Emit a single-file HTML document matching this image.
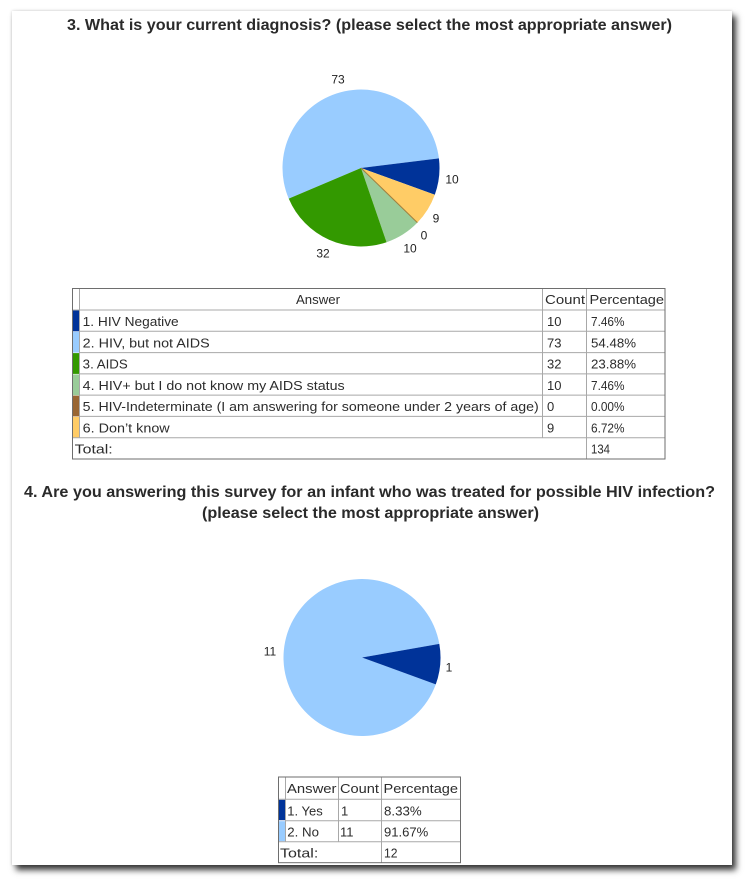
<!DOCTYPE html>
<html>
<head>
<meta charset="utf-8">
<style>
  html, body { margin:0; padding:0; background:#ffffff; }
  body { width:745px; height:880px; position:relative; overflow:hidden; }
  .page { position:absolute; left:12px; top:11px; width:720px; height:854px; background:#fff;
          box-shadow: 4px 5px 6px rgba(0,0,0,0.78), 0 0 3px rgba(0,0,0,0.18); }
  svg { position:absolute; left:0; top:0; }
  .ttl { font-family:"Liberation Sans", Arial, sans-serif; font-weight:bold; font-size:16px; fill:#2a2a2a; }
  .cell { font-family:"Liberation Sans", Arial, sans-serif; font-size:13px; fill:#2c2c2c; }
  .lbl { font-family:"Liberation Sans", Arial, sans-serif; font-size:12px; fill:#222; text-anchor:middle; }
</style>
</head>
<body>
<div class="page"></div>
<svg width="745" height="880" viewBox="0 0 745 880" xmlns="http://www.w3.org/2000/svg">
  <!-- Title 1 -->
  <text class="ttl" x="67" y="30" textLength="605" lengthAdjust="spacingAndGlyphs">3. What is your current diagnosis? (please select the most appropriate answer)</text>

  <!-- Pie 1 -->
  <g>
    <path d="M361,168 L288.74,198.67 A78.5,78.5 0 1 1 438.92,158.43 Z" fill="#99ccff"/>
    <path d="M361,168 L438.92,158.43 A78.5,78.5 0 0 1 434.81,194.72 Z" fill="#003399"/>
    <path d="M361,168 L434.81,194.72 A78.5,78.5 0 0 1 417.37,222.63 Z" fill="#ffcc66"/>
    <path d="M361,168 L417.37,222.63 A78.5,78.5 0 0 1 386.56,242.22 Z" fill="#99cc99"/>
    <path d="M361,168 L386.56,242.22 A78.5,78.5 0 0 1 288.74,198.67 Z" fill="#339900"/>
    <line x1="361" y1="168" x2="417.37" y2="222.63" stroke="#a08040" stroke-width="1"/>
  </g>
  <text class="lbl" x="338" y="83.5">73</text>
  <text class="lbl" x="452" y="183.5">10</text>
  <text class="lbl" x="436" y="222.5">9</text>
  <text class="lbl" x="424" y="239.5">0</text>
  <text class="lbl" x="410" y="252.5">10</text>
  <text class="lbl" x="323" y="257.5">32</text>

  <!-- Table 1 -->
  <g>
    <rect x="73" y="310.5" width="6" height="20.8" fill="#003399"/>
    <rect x="73" y="331.8" width="6" height="20.8" fill="#99ccff"/>
    <rect x="73" y="353.1" width="6" height="20.8" fill="#339900"/>
    <rect x="73" y="374.4" width="6" height="20.8" fill="#99cc99"/>
    <rect x="73" y="395.6" width="6" height="20.8" fill="#996633"/>
    <rect x="73" y="416.9" width="6" height="20.8" fill="#ffcc66"/>
    <g stroke="#a8a8a8" stroke-width="1" fill="none">
      <line x1="72" y1="310" x2="665" y2="310"/>
      <line x1="79" y1="331.3" x2="665" y2="331.3"/>
      <line x1="79" y1="352.6" x2="665" y2="352.6"/>
      <line x1="79" y1="373.9" x2="665" y2="373.9"/>
      <line x1="79" y1="395.1" x2="665" y2="395.1"/>
      <line x1="79" y1="416.4" x2="665" y2="416.4"/>
      <line x1="72" y1="437.7" x2="665" y2="437.7"/>
      <line x1="79.5" y1="288" x2="79.5" y2="437.7"/>
      <line x1="542.5" y1="288" x2="542.5" y2="437.7"/>
      <line x1="586.5" y1="288" x2="586.5" y2="459"/>
    </g>
    <rect x="72.5" y="288.5" width="592.5" height="170.5" fill="none" stroke="#6e6e6e" stroke-width="1"/>
    <text class="cell" x="296" y="304" textLength="44" lengthAdjust="spacingAndGlyphs">Answer</text>
    <text class="cell" x="545" y="304" textLength="40" lengthAdjust="spacingAndGlyphs">Count</text>
    <text class="cell" x="589.5" y="304" textLength="74.5" lengthAdjust="spacingAndGlyphs">Percentage</text>
    <text class="cell" x="82.7" y="326" textLength="96" lengthAdjust="spacingAndGlyphs">1. HIV Negative</text>
    <text class="cell" x="82.7" y="347.3" textLength="127" lengthAdjust="spacingAndGlyphs">2. HIV, but not AIDS</text>
    <text class="cell" x="82.7" y="368.6" textLength="45" lengthAdjust="spacingAndGlyphs">3. AIDS</text>
    <text class="cell" x="82.7" y="389.9" textLength="262" lengthAdjust="spacingAndGlyphs">4. HIV+ but I do not know my AIDS status</text>
    <text class="cell" x="82.7" y="411.1" textLength="456" lengthAdjust="spacingAndGlyphs">5. HIV-Indeterminate (I am answering for someone under 2 years of age)</text>
    <text class="cell" x="82.7" y="432.4" textLength="87" lengthAdjust="spacingAndGlyphs">6. Don’t know</text>
    <text class="cell" x="74.7" y="453.7" textLength="38" lengthAdjust="spacingAndGlyphs">Total:</text>

    <text class="cell" x="547" y="326">10</text>
    <text class="cell" x="547" y="347.3">73</text>
    <text class="cell" x="547" y="368.6">32</text>
    <text class="cell" x="547" y="389.9">10</text>
    <text class="cell" x="547" y="411.1">0</text>
    <text class="cell" x="547" y="432.4">9</text>

    <text class="cell" x="591" y="326" textLength="33.5" lengthAdjust="spacingAndGlyphs">7.46%</text>
    <text class="cell" x="591" y="347.3" textLength="45" lengthAdjust="spacingAndGlyphs">54.48%</text>
    <text class="cell" x="591" y="368.6" textLength="45" lengthAdjust="spacingAndGlyphs">23.88%</text>
    <text class="cell" x="591" y="389.9" textLength="33.5" lengthAdjust="spacingAndGlyphs">7.46%</text>
    <text class="cell" x="591" y="411.1" textLength="33.5" lengthAdjust="spacingAndGlyphs">0.00%</text>
    <text class="cell" x="591" y="432.4" textLength="33.5" lengthAdjust="spacingAndGlyphs">6.72%</text>
    <text class="cell" x="591" y="453.7" textLength="19" lengthAdjust="spacingAndGlyphs">134</text>
  </g>

  <!-- Title 2 -->
  <text class="ttl" x="24" y="497" textLength="691" lengthAdjust="spacingAndGlyphs">4. Are you answering this survey for an infant who was treated for possible HIV infection?</text>
  <text class="ttl" x="202" y="518" textLength="337" lengthAdjust="spacingAndGlyphs">(please select the most appropriate answer)</text>

  <!-- Pie 2 -->
  <path d="M362,657.5 L435.77,684.35 A78.5,78.5 0 1 1 439.31,643.87 Z" fill="#99ccff"/>
  <path d="M362,657.5 L439.31,643.87 A78.5,78.5 0 0 1 435.77,684.35 Z" fill="#003399"/>
  <text class="lbl" x="270" y="655.5">11</text>
  <text class="lbl" x="449" y="671.5">1</text>

  <!-- Table 2 -->
  <g>
    <rect x="279" y="799.8" width="6" height="20.4" fill="#003399"/>
    <rect x="279" y="821.2" width="6" height="20" fill="#99ccff"/>
    <g stroke="#a8a8a8" stroke-width="1" fill="none">
      <line x1="278" y1="799.3" x2="460.7" y2="799.3"/>
      <line x1="285" y1="820.7" x2="460.7" y2="820.7"/>
      <line x1="278" y1="841.7" x2="460.7" y2="841.7"/>
      <line x1="285.5" y1="777" x2="285.5" y2="841.7"/>
      <line x1="338.5" y1="777" x2="338.5" y2="841.7"/>
      <line x1="381.5" y1="777" x2="381.5" y2="862.7"/>
    </g>
    <rect x="278.5" y="777" width="182" height="85.7" fill="none" stroke="#6e6e6e" stroke-width="1"/>
    <text class="cell" x="287" y="793" textLength="49.5" lengthAdjust="spacingAndGlyphs">Answer</text>
    <text class="cell" x="340" y="793" textLength="39" lengthAdjust="spacingAndGlyphs">Count</text>
    <text class="cell" x="383.5" y="793" textLength="74.5" lengthAdjust="spacingAndGlyphs">Percentage</text>
    <text class="cell" x="287.3" y="815.3" textLength="35.4" lengthAdjust="spacingAndGlyphs">1. Yes</text>
    <text class="cell" x="287.3" y="836.5" textLength="31.7" lengthAdjust="spacingAndGlyphs">2. No</text>
    <text class="cell" x="280" y="857.5" textLength="38.3" lengthAdjust="spacingAndGlyphs">Total:</text>
    <text class="cell" x="341" y="815.3">1</text>
    <text class="cell" x="340" y="836.5">11</text>
    <text class="cell" x="384" y="815.3" textLength="37.7" lengthAdjust="spacingAndGlyphs">8.33%</text>
    <text class="cell" x="384" y="836.5" textLength="44.3" lengthAdjust="spacingAndGlyphs">91.67%</text>
    <text class="cell" x="384" y="857.5" textLength="13.5" lengthAdjust="spacingAndGlyphs">12</text>
  </g>
</svg>
</body>
</html>
